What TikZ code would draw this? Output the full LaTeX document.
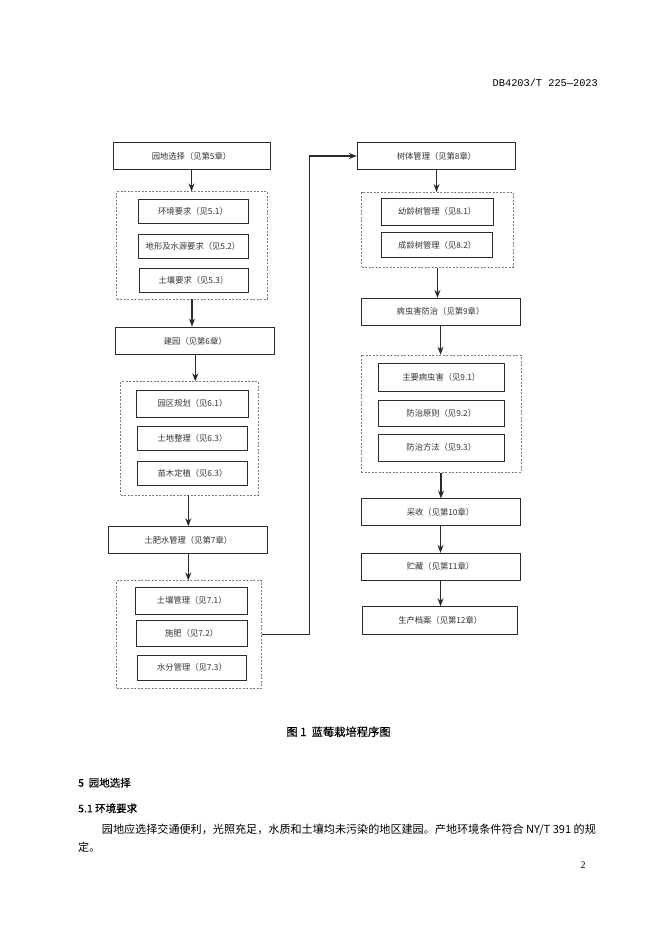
\documentclass[tikz,border=0pt]{standalone}
\usepackage{fontspec}
\setmainfont{Noto Sans CJK SC}
\newfontfamily\hei[FakeBold=0.4]{Noto Sans CJK SC}
\newfontfamily\monof{Liberation Mono}
\newfontfamily\seriff{Liberation Serif}
\usetikzlibrary{arrows.meta}
\definecolor{ln}{HTML}{2A2A2A}
\definecolor{tx}{HTML}{333333}
\definecolor{dsh}{HTML}{7A7A7A}
\tikzset{
  bx/.style={draw=ln, line width=1pt, fill=white, text=tx, font=\fontsize{8.3}{10}\selectfont, inner sep=0pt, anchor=center},
  grp/.style={draw=dsh, line width=0.6pt, dash pattern=on 2pt off 1.5pt, inner sep=0pt, anchor=center},
  arr/.style={draw=ln, line width=1.1pt, -{Stealth[length=8pt,width=6pt]}},
  body/.style={inner sep=0pt, anchor=west, text=black}
}
\begin{document}
\begin{tikzpicture}[x=1pt,y=-1pt]
\fill[white] (0,0) rectangle (662,936);
\useasboundingbox (0,0) rectangle (662,936);
% header
\node[inner sep=0pt, anchor=east, font=\monof\fontsize{10.3}{12}\selectfont] (hdr) at (598,83.3) {DB4203/T 225—2023};
% left column
\node[bx, minimum width=157pt, minimum height=26.5pt] (A) at (191.5,156) {园地选择（见第5章）};
\node[grp, minimum width=150.6pt, minimum height=107.3pt] (G1) at (192,245.3) {};
\node[bx, minimum width=110pt, minimum height=24pt] (a1) at (193,211.3) {环境要求（见5.1）};
\node[bx, minimum width=110pt, minimum height=24pt] (a2) at (193,246.3) {地形及水源要求（见5.2）};
\node[bx, minimum width=109pt, minimum height=24.4pt] (a3) at (193.5,280.5) {土壤要求（见5.3）};
\node[bx, minimum width=159.3pt, minimum height=27.7pt] (B) at (195.3,341) {建园（见第6章）};
\node[grp, minimum width=137.6pt, minimum height=113.3pt] (G2) at (189.5,438.3) {};
\node[bx, minimum width=111.6pt, minimum height=27.3pt] (b1) at (192.5,403.7) {园区规划（见6.1）};
\node[bx, minimum width=109.6pt, minimum height=24.3pt] (b2) at (192.5,438.8) {土地整理（见6.3）};
\node[bx, minimum width=109.6pt, minimum height=24pt] (b3) at (192.5,473.7) {苗木定植（见6.3）};
\node[bx, minimum width=158.7pt, minimum height=26.6pt] (C) at (188.3,540) {土肥水管理（见第7章）};
\node[grp, minimum width=145pt, minimum height=107.6pt] (G3) at (189.2,634.5) {};
\node[bx, minimum width=111.7pt, minimum height=27pt] (c1) at (191.8,600.8) {土壤管理（见7.1）};
\node[bx, minimum width=111.3pt, minimum height=25.7pt] (c2) at (191.7,633.8) {施肥（见7.2）};
\node[bx, minimum width=109.4pt, minimum height=25pt] (c3) at (192,667.5) {水分管理（见7.3）};
% right column
\node[bx, minimum width=158.4pt, minimum height=26.6pt] (D) at (436.5,156) {树体管理（见第8章）};
\node[grp, minimum width=151.6pt, minimum height=75pt] (G4) at (437.5,229.8) {};
\node[bx, minimum width=112.3pt, minimum height=26.7pt] (d1) at (437.2,211.7) {幼龄树管理（见8.1）};
\node[bx, minimum width=111pt, minimum height=25.4pt] (d2) at (437.2,245) {成龄树管理（见8.2）};
\node[bx, minimum width=159pt, minimum height=26.7pt] (E) at (440.5,311.7) {病虫害防治（见第9章）};
\node[grp, minimum width=160pt, minimum height=117.3pt] (G5) at (441,413.7) {};
\node[bx, minimum width=126pt, minimum height=27.7pt] (e1) at (441.3,377.8) {主要病虫害（见9.1）};
\node[bx, minimum width=126pt, minimum height=26pt] (e2) at (441.3,413.7) {防治原则（见9.2）};
\node[bx, minimum width=126pt, minimum height=26.7pt] (e3) at (441.3,447.7) {防治方法（见9.3）};
\node[bx, minimum width=159pt, minimum height=26.7pt] (F) at (440.5,512.3) {采收（见第10章）};
\node[bx, minimum width=159pt, minimum height=26.7pt] (H) at (440.5,566.7) {贮藏（见第11章）};
\node[bx, minimum width=155pt, minimum height=27.6pt] (I) at (440.2,620.5) {生产档案（见第12章）};
% arrows
\draw[arr] (A.south) -- (A.south |- G1.north);
\draw[arr] (G1.south) -- (G1.south |- B.north);
\draw[arr] (B.south) -- (B.south |- G2.north);
\draw[arr] (C.north |- G2.south) -- (C.north);
\draw[arr] (C.south) -- (C.south |- G3.north);
\coordinate (k1) at (309.3,634.5);
\coordinate (k2) at (309.3,156);
\draw[arr] (G3.east) -- (k1) -- (k2) -- (D.west);
\draw[arr] (D.south) -- (D.south |- G4.north);
\draw[arr] (G4.south) -- (G4.south |- E.north);
\draw[arr] (E.south) -- (E.south |- G5.north);
\draw[arr] (G5.south) -- (G5.south |- F.north);
\draw[arr] (F.south) -- (H.north);
\draw[arr] (H.south) -- (H.south |- I.north);
% caption and text
\node[inner sep=0pt, anchor=center, font=\hei\fontsize{11.3}{13}\selectfont] (cap) at (338.5,731.7) {图 1\ \ 蓝莓栽培程序图};
\node[body, font=\hei\fontsize{10.5}{12}\selectfont] (s5) at (78,782.7) {5\ \ 园地选择};
\node[body, font=\hei\fontsize{10.5}{12}\selectfont] (s51) at (78,808.3) {5.1 环境要求};
\node[body, font=\fontsize{11.1}{13}\selectfont] (p1) at (101.7,830) {园地应选择交通便利，光照充足，水质和土壤均未污染的地区建园。产地环境条件符合 NY/T 391 的规};
\node[body, font=\fontsize{11.1}{13}\selectfont] (p2) at (78,847) {定。};
\node[inner sep=0pt, anchor=center, font=\seriff\fontsize{10}{12}\selectfont] (pg) at (583,865) {2};
\end{tikzpicture}
\end{document}
